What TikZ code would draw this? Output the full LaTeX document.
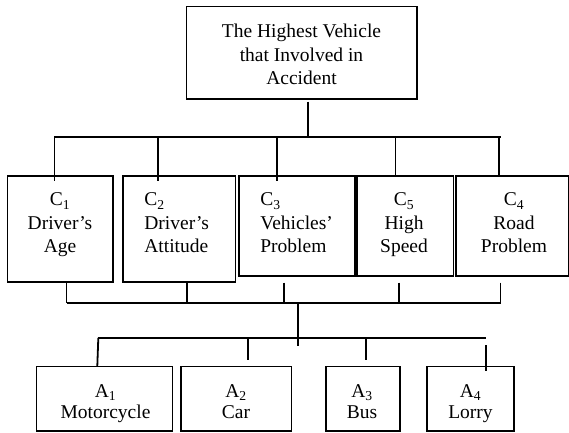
\documentclass[tikz,border=0pt]{standalone}
\usepackage{fontspec}
\setmainfont{Liberation Serif}
\begin{document}
\begin{tikzpicture}[x=1pt,y=-1pt,line width=1.8pt,
  boxnode/.style={inner sep=0pt,minimum width=#1},
  txtc/.style={inner sep=0pt,align=center,anchor=north,font=\fontsize{19.5}{23.3}\selectfont},
  txtl/.style={inner sep=0pt,align=left,anchor=north west,font=\fontsize{19.5}{23.3}\selectfont},
  txta/.style={inner sep=0pt,align=center,anchor=north,font=\fontsize{19.5}{20.6}\selectfont},
  conn/.style={line width=1.8pt}]
\useasboundingbox (0,0) rectangle (569,432);
% boxes
\node[inner sep=0pt, minimum width=228.9pt, minimum height=90.4pt] (top) at (301.75,52.5) {};
\draw (top.north west) rectangle (top.south east);
\node[inner sep=0pt, minimum width=103.7pt, minimum height=104.3pt] (c1) at (60.15,228.85) {};
\draw (c1.north west) rectangle (c1.south east);
\node[inner sep=0pt, minimum width=110.4pt, minimum height=104.3pt] (c2) at (179.3,228.85) {};
\draw (c2.north west) rectangle (c2.south east);
\node[inner sep=0pt, minimum width=116pt, minimum height=98.3pt] (c3) at (298,225.85) {};
\draw (c3.north west) rectangle (c3.south east);
\node[inner sep=0pt, minimum width=96.5pt, minimum height=98.3pt] (c5) at (404.25,225.85) {};
\draw (c5.north west) rectangle (c5.south east);
\node[inner sep=0pt, minimum width=111pt, minimum height=98.3pt] (c4) at (512.5,225.85) {};
\draw (c4.north west) rectangle (c4.south east);
\node[inner sep=0pt, minimum width=134.1pt, minimum height=62.7pt] (a1) at (104.45,398.65) {};
\draw (a1.north west) rectangle (a1.south east);
\node[inner sep=0pt, minimum width=108.5pt, minimum height=62.7pt] (a2) at (236.25,398.65) {};
\draw (a2.north west) rectangle (a2.south east);
\node[inner sep=0pt, minimum width=72.5pt, minimum height=62.7pt] (a3) at (362.95,398.65) {};
\draw (a3.north west) rectangle (a3.south east);
\node[inner sep=0pt, minimum width=84.5pt, minimum height=62.7pt] (a4) at (470.45,398.65) {};
\draw (a4.north west) rectangle (a4.south east);
% texts
\node[txtc] (topt) at (301.5,23.4) {The Highest Vehicle\\that Involved in\\Accident};
\node[txtc] (c1t) at (60,192.1) {C\textsubscript{1}\\Driver’s\\Age};
\node[txtl] (c2t) at (143.5,192.1) {C\textsubscript{2}\\Driver’s\\Attitude};
\node[txtl] (c3t) at (259.5,192.1) {C\textsubscript{3}\\Vehicles’\\Problem};
\node[txtc] (c5t) at (404,192.1) {C\textsubscript{5}\\High\\Speed};
\node[txtc] (c4t) at (514,192.1) {C\textsubscript{4}\\Road\\Problem};
\node[txta] (a1t) at (105.5,383.8) {A\textsubscript{1}\\Motorcycle};
\node[txta] (a2t) at (236,383.8) {A\textsubscript{2}\\Car};
\node[txta] (a3t) at (362,383.8) {A\textsubscript{3}\\Bus};
\node[txta] (a4t) at (470.5,383.8) {A\textsubscript{4}\\Lorry};
% connector coordinates
\coordinate (t0) at (307.7,101.7);
\coordinate (t1) at (307.7,136.7);
\coordinate (busL) at (54.4,136.7);
\coordinate (busR) at (500.7,136.7);
\coordinate (d1) at (54.4,136.7);
\coordinate (d2) at (157.8,136.7);
\coordinate (d3) at (276.9,136.7);
\coordinate (d5) at (395.5,136.7);
\coordinate (d4) at (498.9,136.7);
\coordinate (u1) at (66.5,282.5);
\coordinate (u2) at (186.9,282.5);
\coordinate (u3) at (283.9,282.5);
\coordinate (u5) at (399.2,282.5);
\coordinate (u4) at (500.5,282.5);
\coordinate (lbL) at (66.5,303.3);
\coordinate (lbR) at (500.5,303.3);
\coordinate (m0) at (298.2,303.3);
\coordinate (m1) at (298.2,346);
\coordinate (abL) at (98.3,338);
\coordinate (abR) at (485.5,338);
\coordinate (e1) at (97.3,366);
\coordinate (e2a) at (247.6,338);
\coordinate (e2) at (247.6,360);
\coordinate (e3a) at (366.3,338);
\coordinate (e3) at (366.3,360);
\coordinate (e4a) at (486.2,345);
\coordinate (e4) at (486.2,371);
% connectors
\draw[conn] (t0) -- (t1);
\draw[conn] (busL) -- (busR);
\draw[conn] (d1) -- (d1 |- c1.north) -- ++(0,5);
\draw[conn] (d2) -- (d2 |- c2.north) -- ++(0,5);
\draw[conn] (d3) -- (d3 |- c3.north) -- ++(0,5);
\draw[conn] (d5) -- (d5 |- c5.north);
\draw[conn] (d4) -- (d4 |- c4.north);
\draw[conn] (u1) -- (lbL);
\draw[conn] (u2) -- (u2 |- lbL);
\draw[conn] (u3) -- (u3 |- lbL);
\draw[conn] (u5) -- (u5 |- lbL);
\draw[conn] (u4) -- (lbR);
\draw[conn] (lbL) -- (lbR);
\draw[conn] (m0) -- (m1);
\draw[conn] (abL) -- (abR);
\draw[conn] (abL) -- (e1);
\draw[conn] (e2a) -- (e2);
\draw[conn] (e3a) -- (e3);
\draw[conn] (e4a) -- (e4);
\end{tikzpicture}
\end{document}
